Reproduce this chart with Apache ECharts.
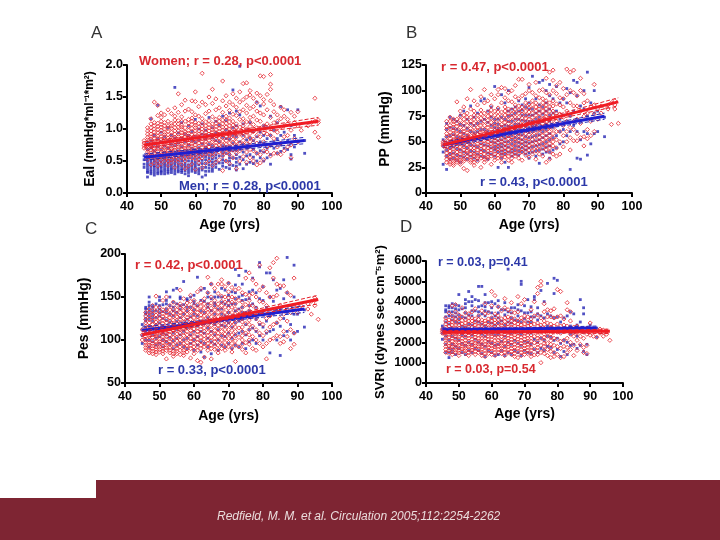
<!DOCTYPE html>
<html><head><meta charset="utf-8">
<style>html,body{margin:0;padding:0;background:#fff}#c{width:720px;height:540px}</style>
<script src="https://cdn.jsdelivr.net/npm/echarts@6/dist/echarts.min.js"></script></head>
<body><div id="c"></div>
<script>
// Each row: age, then values at that age.
const eaWomen=[[45,.74,.78,.7,.82],[46,.52,.6,.68,.75,.83,.92,1.02,.79],[47,.44,.55,.63,.72,.8,.88,.97,1.08,1.16,.76],[48,.47,.58,.66,.74,.81,.9,1,1.1,1.42,.7],[49,.42,.5,.61,.69,.77,.85,.94,1.04,1.21,1.37],[50,.45,.56,.64,.72,.8,.88,.98,1.07,1.18,1.25],[51,.5,.59,.67,.75,.83,.91,1,1.1,1.22,.62],[52,.43,.54,.62,.7,.78,.86,.96,1.05,1.12,1.3],[53,.47,.57,.66,.74,.82,.9,1.01,1.09,1.24,.69],[54,.4,.52,.63,.71,.8,.87,.97,1.08,1.2,1.33],[55,.48,.58,.68,.76,.84,.92,1.03,1.13,1.26,1.55],[56,.44,.55,.64,.73,.81,.9,.99,1.06,1.19,1.38],[57,.38,.5,.62,.7,.79,.88,.95,1.12,1.28,1.45],[58,.42,.56,.66,.74,.85,.93,1.04,1.15,1.31],[59,.45,.6,.69,.77,.86,.96,1.07,1.17,1.27,1.44],[60,.37,.53,.65,.75,.84,.92,1.02,1.1,1.22,1.58,1.43],[61,.47,.59,.68,.78,.88,.97,1.09,1.2,1.35],[62,.4,.55,.66,.76,.85,.95,1.05,1.16,1.42,1.87],[63,.46,.61,.7,.81,.9,1,1.11,1.24,1.38],[64,.5,.6,.72,.82,.92,1.02,1.13,1.28,1.5],[65,.43,.57,.69,.8,.89,.99,1.08,1.19,1.4,1.62],[66,.48,.62,.74,.84,.94,1.04,1.15,1.3,1.47],[67,.52,.64,.75,.86,.96,1.06,1.18,1.33],[68,.35,.58,.7,.81,.93,1.03,1.14,1.26,1.44,1.75],[69,.5,.63,.76,.88,.98,1.09,1.2,1.36,1.52],[70,.46,.6,.72,.85,.95,1.05,1.17,1.29,1.42],[71,.55,.67,.79,.9,1.01,1.12,1.23,1.38,1.55],[72,.38,.62,.74,.87,.97,1.08,1.21,1.34,1.48],[73,.5,.66,.78,.92,1.03,1.15,1.27,1.42,1.58],[74,.57,.7,.82,.94,1.05,1.16,1.3,1.46,1.71],[75,.48,.64,.77,.89,1,1.11,1.25,1.37,1.5,1.72],[76,.55,.68,.8,.93,1.04,1.18,1.32,1.6,1.53],[77,.5,.66,.84,.96,1.07,1.2,1.35,1.48],[78,.44,.62,.78,.9,1.02,1.14,1.28,1.41,1.56],[79,.47,.6,.74,.88,1,1.12,1.25,1.83,1.52],[80,.52,.66,.8,.94,1.05,1.22,1.39,1.82,1.46],[81,.64,.72,.92,1.08,1.3,1.54],[82,.58,.75,.9,1.02,1.18,1.62,1.7,1.85,1.44],[83,.62,.85,.98,1.1,1.27,1.38],[84,.62,.72,.95,1.12,1.22],[85,.6,.78,1.03,1.16,1.34],[86,.66,.88,1.05,1.3,1.2],[87,.72,.9,1.08,1.15],[88,.55,.75,.98,1.26],[89,.85,1.1,1.2],[90,.8,1.05,1.27],[91,.98],[93,1.05],[94,1.1],[95,.95,1.12,1.48],[96,.87,1.1,1.14]];
const eaWomenCore=[[46,.57,.64,.71,.87,.97],[47,.59,.67,.75,.84,.92,1.02],[48,.55,.62,.69,.78,.85,.95,1.05],[49,.55,.65,.73,.81,.89,.99,1.09],[50,.52,.6,.68,.76,.84,.93,1.03,1.12],[51,.55,.63,.71,.79,.87,.95,1.05],[52,.5,.58,.66,.74,.82,.91,1.01],[53,.52,.61,.7,.78,.86,.95,1.05],[54,.58,.67,.75,.83,.92,1.02,1.14],[55,.53,.63,.72,.8,.88,.97,1.08],[56,.6,.68,.77,.85,.94,1.03,1.12],[57,.56,.66,.74,.83,.92,1.02],[58,.6,.7,.79,.89,.98,1.09],[59,.55,.65,.73,.81,.91,1.01,1.12],[60,.6,.7,.8,.88,.97,1.06],[61,.53,.63,.73,.83,.92,1.03],[62,.6,.71,.8,.9,1,1.1],[63,.65,.75,.85,.95,1.05],[64,.66,.77,.87,.97,1.07],[65,.63,.74,.84,.94,1.03],[66,.68,.79,.89,.99,1.09],[67,.7,.8,.91,1.01,1.12],[68,.64,.75,.87,.98,1.08],[69,.69,.82,.93,1.03,1.14],[70,.66,.78,.9,1,1.11],[71,.73,.84,.95,1.06],[72,.68,.8,.92,1.02],[74,.76,.88,1,1.1],[76,.74,.86,.98,1.11]];
const eaMen=[[45,.4,.45,.52,.58],[46,.25,.34,.42,.5,.58,.68,.78],[47,.3,.36,.44,.52,.6,.7,.82,1.16],[48,.28,.36,.43,.5,.57,.66,.76,.9],[49,.3,.37,.45,.53,.62,.72,.85,1.37],[50,.3,.35,.42,.5,.58,.68,.8,.95],[51,.3,.38,.46,.54,.63,.73,.88],[52,.31,.37,.44,.52,.6,.7,.82,1.02],[53,.32,.39,.47,.55,.65,.76,.9],[54,.3,.38,.46,.53,.62,.74,.86,1.65],[55,.33,.4,.48,.56,.66,.78,.94],[56,.32,.38,.45,.54,.63,.72,.85,1.1],[57,.3,.39,.47,.57,.67,.8,.92],[58,.27,.36,.44,.55,.64,.75,.9,1.05],[59,.34,.42,.5,.6,.7,.82,.96],[60,.32,.4,.48,.58,.68,.79,.88,1.15],[61,.3,.38,.5,.6,.71,.83,1],[62,.25,.36,.46,.57,.66,.77,.92,1.08],[63,.28,.4,.52,.62,.72,.84,.98],[64,.34,.44,.54,.64,.76,.9,1.18],[65,.34,.43,.53,.63,.74,.86,1.02],[66,.4,.5,.6,.7,.82,.94,1.12],[67,.37,.47,.58,.68,.8,.92,1.06],[68,.42,.52,.63,.74,.87,1.2],[69,.4,.5,.62,.73,.85,.99,1.13],[70,.38,.5,.6,.72,.84,.96,1.25],[71,.43,.55,.66,.78,.9,1.02,1.61],[72,.36,.48,.6,.74,.88,1.05,1.28],[73,.45,.56,.68,.8,.95,1.22,1.98],[74,.38,.52,.64,.76,.9,1.08],[75,.45,.58,.7,.83,.98],[76,.48,.6,.72,.86,1.1],[77,.46,.56,.68,.82,.96],[78,.5,.62,.74,.88,1.42],[79,.55,.66,.8,.95,1.36],[80,.5,.64,.78,.9,1.05],[81,.55,.7,.85,1.02],[82,.45,.6,.74,.9,1.2],[83,.7,.8,.98],[84,.62,.85,1.1],[85,.65,.75,.9,1.35],[86,.7,.95],[87,.68,.82,1.3],[88,.53,.6,.78,1.05],[89,.72,.9],[90,.8,1.3],[92,.62,.82]];
const eaMenCore=[[46,.32,.38,.46,.54],[47,.33,.4,.48,.56],[48,.32,.4,.47,.54],[49,.33,.41,.49,.57],[50,.33,.39,.46,.54],[51,.34,.42,.5,.58],[52,.34,.41,.48,.56],[53,.36,.43,.51,.6],[54,.34,.42,.5,.58],[55,.36,.44,.52,.61],[56,.35,.42,.5,.59],[57,.35,.43,.52,.62],[58,.32,.4,.5,.6],[59,.38,.46,.55,.65],[60,.36,.44,.53,.63],[61,.34,.44,.55,.66],[62,.4,.51,.61],[63,.34,.46,.57],[64,.39,.49,.59],[65,.38,.48,.58],[66,.45,.55,.65],[68,.47,.58,.68],[70,.44,.55,.66],[72,.42,.54,.67]];
const ppWomen=[[45,46,48,50],[46,30,36,42,48,55,62,70],[47,28,33,38,44,50,56,63,70,74],[48,27,31,37,43,49,55,61,67,72],[49,30,34,40,46,52,58,65,72,89],[50,28,32,38,45,51,57,64,71,80],[51,24,31,36,42,48,54,60,68,76,84],[52,22,33,39,44,50,56,62,70,78,92],[53,30,35,41,47,53,60,67,74,82,101],[54,27,33,38,44,51,57,64,72,80,90],[55,31,36,42,48,54,61,68,76,86],[56,25,34,40,46,52,59,66,73,81,94],[57,30,35,41,48,55,62,70,78,88,101],[58,33,38,44,50,57,64,71,79,90],[59,28,36,42,48,55,62,69,77,85,96],[60,32,38,45,51,58,65,72,80,92],[61,34,40,46,53,60,67,75,83,96,101],[62,30,37,43,50,57,64,71,79,88,103],[63,35,41,48,55,62,69,76,84,93,102],[64,32,39,46,53,60,68,75,82,90,98],[65,30,38,44,52,59,66,74,81,89,100],[66,36,42,50,57,64,71,78,86,94,105],[67,34,41,48,56,63,70,78,85,92,111],[68,32,40,47,54,62,70,77,84,95,111],[69,37,44,51,58,66,73,80,88,97],[70,35,42,50,57,65,72,79,87,100,106],[71,38,45,52,60,67,74,82,90,98],[72,33,41,49,56,64,72,80,88,95,108],[73,38,46,54,62,70,78,85,93,100],[74,36,44,52,60,68,76,84,92,101],[75,30,42,50,58,66,74,82,90,98,112],[76,33,40,48,56,64,72,80,88,96,118],[77,38,46,54,63,72,80,90,100,120,110],[78,36,44,52,60,70,78,87,97,105],[79,38,50,60,68,77,86,93,108],[80,45,56,66,74,84,92,102],[81,50,60,70,80,96,121],[82,42,54,64,76,88,100,118],[83,51,62,70,85,98,120],[84,51,58,72,85,95],[85,54,68,80,100,112],[86,46,55,75,88,97],[87,53,62,78,90],[88,56,70,84],[89,60,77,86,106],[90,72,82],[91,78,85],[92,84],[93,82,86],[94,67,88],[95,82,86,90],[96,68]];
const ppWomenCore=[[46,33,39,45,51,58,65],[47,30,35,41,47,53,59,66],[48,29,34,40,46,52,58,64,70],[49,32,37,43,49,55,61,68],[50,30,35,41,48,54,60,67,75],[51,33,39,45,51,57,63,72],[52,36,41,47,53,59,66,74],[53,32,38,44,50,56,63,70],[54,30,36,41,47,54,60,68,76],[55,34,39,45,51,57,64,72],[56,37,43,49,55,62,69,77],[57,33,38,44,51,58,66,74],[58,35,41,47,53,60,67,75],[59,39,45,51,58,65,73,81],[60,35,41,48,54,61,68,76],[61,37,43,49,56,63,71,79],[62,34,40,47,53,60,67,75],[63,38,44,51,58,65,72,80],[64,36,42,49,56,64,71,78],[65,34,41,48,55,62,70,77],[66,39,46,53,60,67,74,82],[67,38,44,52,59,66,74,81],[68,43,50,58,66,73,80],[69,40,47,54,62,69,76,84],[70,46,53,61,68,75,83],[71,41,48,56,63,70,78,86],[72,45,52,60,68,76,84],[73,42,50,58,66,74,82],[74,48,56,64,72,80,88],[75,46,54,62,70,78,86],[76,44,52,60,68,76,84],[77,50,58,67,76,85]];
const ppMen=[[45,28,40,46,52],[46,23,36,42,48,55,62,68],[47,33,38,44,50,56,64,74],[48,34,39,45,51,57,63,72],[49,32,37,43,49,55,62,70],[50,30,36,42,48,54,60,67,76],[51,35,40,46,52,58,66,80],[52,33,38,44,50,56,63,72],[53,36,41,47,53,60,68,85],[54,34,40,46,52,59,66,74],[55,32,38,45,53,60,68,78],[56,36,42,48,55,62,70,90],[57,35,41,47,54,62,72,92],[58,33,39,46,52,60,69,80],[59,38,44,50,58,66,74,84],[60,36,42,49,56,64,72,104],[61,25,40,47,55,63,72,82],[62,34,41,48,56,65,74,96],[63,30,38,46,54,62,72,88],[64,25,40,50,60,70,80,100],[65,36,43,52,60,70,82],[66,38,46,54,63,72,84],[67,37,45,53,62,72,90],[68,40,48,57,66,76,86],[69,38,46,55,65,76,92],[70,34,44,54,64,76,88,103],[71,40,50,60,70,82,114],[72,36,46,56,66,78,92],[73,29,42,52,62,74,86,108],[74,38,48,60,70,84,110],[75,40,50,62,72,88,100],[76,34,46,58,70,82,95,106],[77,42,54,64,78,92],[78,44,56,66,80,104],[79,48,60,72,88],[80,50,62,76,92],[81,56,70,88,102],[82,23,60,75,98],[83,66,80,110],[84,34,60,72,95,108],[85,33,52,70,85],[86,60,82,100],[87,37,58,75,118],[88,48,72,88],[89,58,78,100],[90,60,80],[92,55,74]];
const ppMenCore=[[60,45,53,60,68],[61,44,51,59,67],[62,38,45,52,60],[63,42,50,58,66],[64,45,55,65,75],[65,40,48,56,65,76],[66,42,50,58,67,78],[67,41,49,57,67,80],[68,44,52,61,71,81],[69,42,50,60,70,84],[70,39,49,59,70,82],[71,45,55,65,76],[72,41,51,61,72],[73,47,57,68,80],[74,43,54,65,77],[75,45,56,67,80],[76,40,52,64,76]];
const pesWomen=[[45,100,106,112],[46,88,94,100,108,116,124,132],[47,85,91,97,104,112,120,128,136],[48,84,90,96,103,110,118,126,134,140],[49,83,89,95,102,109,117,125,133,151],[50,86,92,98,105,113,121,129,138],[51,84,90,97,104,111,119,127,135,146],[52,78,88,94,101,108,116,124,132,150],[53,85,91,98,106,114,122,130,140],[54,81,87,95,103,111,119,127,136,144],[55,84,90,99,107,115,123,131,140],[56,83,92,100,108,116,124,132,142,158],[57,82,88,96,105,113,121,130,139,148],[58,86,93,102,110,118,126,134,143],[59,79,90,98,107,115,124,133,145,152],[60,84,92,100,109,117,126,135,146],[61,76,88,97,106,114,123,132,141,156],[62,74,90,99,108,116,125,134,144,160],[63,80,92,101,110,119,128,137,148],[64,88,96,105,114,123,132,141,155,173],[65,78,90,99,108,117,127,137,150,165],[66,89,98,107,116,125,135,146,160],[67,85,94,104,113,122,132,142,154,165],[68,90,100,110,120,130,140,151,170,165],[69,88,97,107,117,127,138,150,162],[70,92,102,112,122,132,143,156,166],[71,86,96,106,116,127,138,150,161],[72,75,94,105,115,125,136,148,158],[73,92,103,114,124,134,146,160],[74,89,100,110,121,132,144,155],[75,85,97,108,119,130,141,153,172],[76,95,106,118,129,140,152,178],[77,90,104,116,128,140,154,170],[78,88,100,112,125,137,150,165],[79,96,108,120,132,145,158,187],[80,92,105,118,130,144,162],[81,78,96,110,125,140,155],[82,100,115,128,150,184],[83,102,118,135,150,172,190],[84,105,120,133,152,165,195],[85,96,104,125,140,163],[86,98,110,130,163],[87,104,122,135,155],[88,90,112,132,152],[89,95,108,138,172],[90,132,140],[91,140],[93,136,142],[94,130,145],[95,140,146,149],[96,124]];
const pesWomenCore=[[46,91,97,104,112,120,128],[47,88,94,100,108,116,124,132],[48,87,93,99,106,114,122,130],[49,86,92,98,105,113,121,129,138],[50,89,95,101,109,117,125,133],[51,87,93,100,107,115,123,131],[52,91,97,104,112,120,128,136],[53,88,95,102,110,118,126,135],[54,84,91,99,107,115,123,131],[55,87,94,103,111,119,127,135],[56,88,96,104,112,120,128,137],[57,85,92,100,109,117,125,134],[58,90,97,106,114,122,130,138],[59,94,102,111,119,128,138],[60,88,96,104,113,121,130,140],[61,92,101,110,118,127,136],[62,94,103,112,120,129,139],[63,96,105,114,123,132,142],[64,92,100,109,118,127,136],[65,94,103,112,122,132,143],[66,93,102,111,120,130,140],[67,89,99,108,117,127,137],[68,95,105,115,125,135,145],[69,92,102,112,122,132,144],[70,97,107,117,127,137,149],[71,91,101,111,121,132,144],[72,99,110,120,130,142],[74,95,105,115,126,138],[76,100,112,123,134,146]];
const pesMen=[[45,96,105,112,118],[46,100,108,115,122,130,136],[47,92,100,108,116,124,132,140,150],[48,98,106,114,122,130,138],[49,94,102,110,118,126,134,142],[50,96,104,112,120,128,136,146],[51,92,100,108,116,125,133,141],[52,98,106,114,123,132,142,156],[53,95,103,112,121,130,140,150],[54,90,99,108,118,128,138,158],[55,94,102,112,122,132,142,160],[56,96,106,116,126,136,148],[57,92,100,110,120,130,141,168],[58,90,102,114,124,134,146],[59,96,106,116,127,138,150],[60,88,100,110,120,130,142,152],[61,94,104,116,128,140,173],[62,86,98,110,122,134,146,158],[63,80,96,108,120,132,145,160],[64,92,102,114,126,138,150],[65,84,98,110,122,134,148,165],[66,95,106,118,130,143,156],[67,88,100,112,124,136,150],[68,94,105,117,130,144,160],[69,92,104,116,128,142,158],[70,96,108,120,132,146,166],[71,90,102,115,128,142,156],[72,94,106,120,134,148,164,182],[73,92,108,122,136,150,175],[74,96,110,124,138,152,165],[75,90,106,118,132,147,180],[76,98,112,126,140,156],[77,100,114,128,142,158,172],[78,96,110,124,138,155],[79,105,118,132,148,185,190],[80,100,115,130,146,162],[81,108,122,138,178],[82,85,110,128,150,178],[83,112,130,145,170],[84,100,120,135,158],[85,82,116,136,160],[86,105,125,148,170],[87,110,132,155,196],[88,100,118,140],[89,108,130,150,187],[90,110,130],[92,115,135]];
const pesMenCore=[[46,125,132,138],[47,128,136,144],[48,126,134,140],[50,132,140,150],[52,136,146],[54,134,144],[56,140,150],[58,138,148],[60,135,145],[64,142,155],[66,140,150],[68,136,150],[70,140,152],[72,128,142,155],[74,132,146],[76,134,148]];
const svriWomen=[[45,2450,2550,2650],[46,1500,1800,2100,2350,2600,2900,3200],[47,1450,1700,1950,2250,2500,2800,3100,3450],[48,1400,1650,1900,2200,2450,2700,3000,3300,3800],[49,1500,1750,2000,2300,2550,2850,3150,3500,3850],[50,1350,1600,1850,2150,2400,2700,3000,3350],[51,1550,1800,2050,2350,2600,2900,3250,3700],[52,1450,1700,1950,2250,2500,2800,3100,3450],[53,1350,1650,1900,2200,2480,2750,3050,3400],[54,1500,1750,2000,2300,2600,2900,3200,3500],[55,1400,1700,1950,2250,2550,2850,3150,3650],[56,1500,1800,2050,2350,2650,2950,3300],[57,1350,1650,1900,2200,2500,2800,3100,3550],[58,1300,1600,1900,2200,2500,2780,3050,3400,3900],[59,1450,1750,2000,2300,2580,2850,3150,3450],[60,1400,1700,1980,2280,2550,2880,3200,3800,4500],[61,1350,1650,1900,2250,2520,2800,3100,3400,4300],[62,1500,1800,2100,2400,2650,2950,3300,3750],[63,1450,1700,1950,2280,2560,2820,3150,3550],[64,1350,1650,1950,2250,2520,2850,3200,4150,3700],[65,1500,1780,2050,2350,2620,2900,3250,3600],[66,1400,1700,2000,2300,2580,2880,3200,3500,3950],[67,1300,1600,1900,2220,2500,2800,3150,3450],[68,1250,1550,1850,2150,2450,2750,3050,3500,4250],[69,1350,1650,1950,2250,2550,2850,3200,3900],[70,1400,1700,2000,2300,2600,2900,3300,4100],[71,1450,1750,2050,2350,2650,2950,3250],[72,1300,1600,1900,2200,2520,2850,3150,3600],[73,1380,1680,1980,2300,2600,2900,3300,4000],[74,1400,1750,2050,2350,2650,2950,3350,4400,4700],[75,1000,1500,1850,2200,2500,2850,3200,5000,4800],[76,1450,1800,2100,2400,2700,3050,3500,3900],[77,1350,1650,1950,2300,2600,2950,3250,3600],[78,1250,1550,1900,2250,2560,2900,3250,3550],[79,1300,1500,1850,2200,2500,2800,3200,3650],[80,1400,1800,2150,2500,2900,3250,4600],[81,1250,1700,2050,2450,2800,3300,4500],[82,1300,1800,2100,2520,2850,3150],[83,1500,1750,2200,2550,2800,3600,3950],[84,1650,2000,2400,2700,3050,3500],[85,1350,1850,2300,2500,2750],[86,1600,2100,2450,2800],[87,1900,2300,2600],[88,1500,1750,2200,2500],[89,1450,1850,2400,2700],[90,2350,2500,2950],[91,2300,2600],[92,2250,2550],[93,2450,2650],[94,2300,2500,2600],[95,2400,2550],[96,2100]];
const svriWomenCore=[[46,1650,1950,2220,2480,2750,3050],[47,1580,1820,2100,2380,2650,2950],[48,1530,1780,2050,2320,2580,2850,3150],[49,1620,1880,2150,2420,2700,3000],[50,1480,1730,2000,2280,2550,2850,3150],[51,1680,1920,2200,2480,2750,3080],[52,1580,1820,2100,2380,2650,2950],[53,1500,1780,2050,2340,2620,2900,3200],[54,1620,1880,2150,2450,2750,3050],[55,1550,1830,2100,2400,2700,3000],[56,1650,1920,2200,2500,2800,3120],[57,1500,1780,2050,2350,2650,2950],[58,1450,1750,2050,2350,2640,2920],[59,1600,1880,2150,2440,2720,3000],[60,1550,1840,2130,2420,2710,3040],[61,1500,1780,2080,2380,2660,2950],[62,1650,1950,2250,2520,2800,3120],[63,1580,1830,2110,2420,2690,2980],[64,1500,1800,2100,2380,2680,3020],[65,1640,1920,2200,2480,2760,3070],[66,1550,1850,2150,2440,2730,3040],[67,1450,1750,2060,2360,2650,2970],[68,1700,2000,2300,2600,2900],[69,1500,1800,2100,2400,2700,3020],[70,1550,1850,2150,2450,2750,3100],[71,1600,1900,2200,2500,2800],[72,1450,1750,2050,2360,2680,3000],[74,1580,1900,2200,2500,2800],[76,1620,1950,2250,2550,2880],[78,1720,2080,2400,2730]];
const svriMen=[[45,2150,2450,2650,2800],[46,1500,1900,2300,2650,3000,3500,3800],[47,1250,1700,2100,2500,2900,3300,3700],[48,1500,1900,2300,2700,3100,3500,3900],[49,1400,1800,2200,2600,3000,3450,3850],[50,1700,2100,2500,2950,3350,3800,4350],[51,1500,1950,2350,2800,3250,3650],[52,1400,1850,2300,2750,3200,3700,4100],[53,1600,2000,2450,2900,3350,4000,4500],[54,1500,1900,2350,2850,3300,3800,4250],[55,1700,2150,2600,3050,3550,4100],[56,1600,2000,2500,3000,3500,4050,4750],[57,1450,1900,2400,2900,3400,3800,4750],[58,1300,1800,2300,2800,3300,3750,4350],[59,1600,2050,2500,3000,3500,3950],[60,1500,1950,2450,2950,3450,4000],[61,1350,1850,2350,2850,3300,3900],[62,1400,1900,2400,2950,3450,4050],[63,1600,2050,2550,3050,3600],[64,1350,1800,2300,2850,3350,3950],[65,1500,2000,2500,3000,3500,5600],[66,1400,1900,2450,2950,3450],[67,1600,2100,2600,3100,3700],[68,1500,1950,2500,3050,3600],[69,1350,1850,2400,3000,3550,4850,5000],[70,1600,2050,2600,3150,3800],[71,1500,2000,2500,3000,3450,4100],[72,1450,1900,2450,3000,3500],[73,1650,2150,2700,3250,4250,4100],[74,1500,2000,2550,3100,3700],[75,1700,2200,2750,3300,4550],[76,1600,2100,2650,3200,4000],[77,1800,2300,2800,3400,4900],[78,1750,2250,2750,3300],[79,1500,2100,2650,3200,5150,4400],[80,1650,2200,2700,3250,5050],[81,1300,1950,2500,3000],[82,1550,2100,2600,3200],[83,1400,2000,2650,3300],[84,1850,2400,2800,3500],[85,1900,2500,3400],[86,1700,2300,2850],[87,1850,2600,3000,4100],[88,1550,2500,3400,3700],[89,1400,1900,2700],[90,2600,2850],[92,2250,2700]];
const svriMenCore=[[46,3250,3600],[47,1500,3500,3800],[48,1650,3300,3700],[49,3250,3650],[50,3150,3600],[52,3450,3900],[54,3550,4000],[56,3300,3750],[58,3550,3950],[60,3200,3700],[62,3200,3750],[64,3600],[66,3200,3700],[68,3300,3850],[70,3450],[72,3250,3750],[74,3400]];
const ageTicks=["40","50","60","70","80","90","100"];
const menLineA=[[45,.56],[92,.82]], womenLineA=[[45,.75],[96,1.12]];
const menLineB=[[45,47],[92,75]], womenLineB=[[45,47],[96,89]];
const menLineC=[[45,111],[92,136]], womenLineC=[[45,106],[96,147]];
const menLineD=[[45,2620],[92,2700]], womenLineD=[[45,2500],[96,2540]];
const menBandA=[.05,.03,.05], womenBandA=[.05,.03,.06];
const menBandB=[3,1.5,3], womenBandB=[3,1.5,4];
const menBandC=[4,2,4], womenBandC=[4,2,5];
const menBandD=[90,45,100], womenBandD=[90,45,110];

const RED='#e5212b', BLUE='#2626b4', FONT='"Liberation Sans",Arial,sans-serif';
const cols=r=>r.flatMap(([a,...v])=>v.map(y=>[a,y]));
function band(line,w,sign){
  const [[x0,y0],[x1,y1]]=line, m=(x0+x1)/2;
  return [[x0,y0+sign*w[0]],[m,(y0+y1)/2+sign*w[1]],[x1,y1+sign*w[2]]];
}
const panels=[
 {l:127,t:65,w:205,h:128,ymin:0,ymax:2,iv:.5,fmt:v=>v.toFixed(1),name:'{a|Eal} {b|(mmHg*ml⁻¹*m²)}',gap:30,xgap:25,w_:[...eaWomen,...eaWomenCore],m_:[...eaMen,...eaMenCore],ml:menLineA,wl:womenLineA,mb:menBandA,wb:womenBandA},
 {l:426,t:65,w:206,h:128,ymin:0,ymax:125,iv:25,fmt:v=>v,name:'{a|PP (mmHg)}',gap:34,xgap:25,w_:[...ppWomen,...ppWomenCore],m_:[...ppMen,...ppMenCore],ml:menLineB,wl:womenLineB,mb:menBandB,wb:womenBandB},
 {l:125,t:254,w:207,h:129,ymin:50,ymax:200,iv:50,fmt:v=>v,name:'{a|Pes (mmHg)}',gap:34,xgap:26,w_:[...pesWomen,...pesWomenCore],m_:[...pesMen,...pesMenCore],ml:menLineC,wl:womenLineC,mb:menBandC,wb:womenBandC},
 {l:426,t:261,w:197,h:122,ymin:0,ymax:6000,iv:1000,fmt:v=>v,name:'{c|SVRI (dynes sec cm⁻⁵m²)}',gap:39,xgap:24,w_:[...svriWomen,...svriWomenCore],m_:[...svriMen,...svriMenCore],ml:menLineD,wl:womenLineD,mb:menBandD,wb:womenBandD}
];
const grid=[],xAxis=[],yAxis=[],series=[];
panels.forEach((p,i)=>{
  grid.push({left:p.l,top:p.t,width:p.w,height:p.h});
  const line={lineStyle:{color:'#000',width:2}}, tick={length:4,lineStyle:{color:'#000',width:2}};
  xAxis.push({gridIndex:i,type:'value',min:40,max:100,interval:10,splitLine:{show:false},axisLine:{onZero:false,...line},axisTick:tick,
    axisLabel:{color:'#000',fontFamily:FONT,fontWeight:'bold',fontSize:12.5,margin:7,formatter:v=>ageTicks[(v-40)/10]},
    name:'Age (yrs)',nameLocation:'middle',nameGap:p.xgap,nameTextStyle:{color:'#000',fontFamily:FONT,fontWeight:'bold',fontSize:14}});
  yAxis.push({gridIndex:i,type:'value',min:p.ymin,max:p.ymax,interval:p.iv,splitLine:{show:false},axisLine:{onZero:false,...line},axisTick:tick,
    axisLabel:{color:'#000',fontFamily:FONT,fontWeight:'bold',fontSize:12.5,margin:4,formatter:p.fmt},
    name:p.name,nameLocation:'middle',nameGap:p.gap,nameRotate:90,
    nameTextStyle:{rich:{a:{color:'#000',fontFamily:FONT,fontWeight:'bold',fontSize:14},b:{color:'#000',fontFamily:FONT,fontWeight:'bold',fontSize:12},c:{color:'#000',fontFamily:FONT,fontWeight:'bold',fontSize:13}}}});
  const base={xAxisIndex:i,yAxisIndex:i,animation:false,silent:true};
  series.push({...base,type:'scatter',data:cols(p.m_),symbol:'rect',symbolSize:2.8,itemStyle:{color:BLUE}});
  series.push({...base,type:'scatter',data:cols(p.w_),symbol:'diamond',symbolSize:4.2,itemStyle:{color:'rgba(255,255,255,0.2)',borderColor:RED,borderWidth:1}});
  const ln=(d,c,w,dash)=>series.push({...base,type:'line',data:d,showSymbol:false,smooth:false,lineStyle:{color:c,width:w,type:dash?'dashed':'solid'}});
  ln(band(p.ml,p.mb,1),BLUE,1,true); ln(band(p.ml,p.mb,-1),BLUE,1,true);
  ln(p.ml,'#1f1fd0',3);
  ln(band(p.wl,p.wb,1),RED,1,true); ln(band(p.wl,p.wb,-1),RED,1,true);
  ln(p.wl,'#f01c24',3);
});
const txt=(s,x,y,c,o={})=>({type:'text',x,y,z:50,style:{text:s,fill:c,font:`bold 13px ${FONT}`,textVerticalAlign:'middle',...o}});
const letter=(s,x,y)=>txt(s,x,y,'#333',{font:`17px ${FONT}`});
const graphic=[
 {type:'rect',shape:{x:96,y:480,width:624,height:60},style:{fill:'#7e2533'},silent:true},
 {type:'rect',shape:{x:0,y:498,width:96,height:42},style:{fill:'#7e2533'},silent:true},
 txt('Redfield, M. M. et al. Circulation 2005;112:2254-2262',217,517,'#eadcdc',{font:`italic 12px ${FONT}`}),
 letter('A',91,33),letter('B',406,33),letter('C',85,229),letter('D',400,227),
 txt('Women; r = 0.28, p<0.0001',139,61,'#d8282f'),
 txt('Men; r = 0.28, p<0.0001',179,186,'#2c38a8'),
 txt('r = 0.47, p<0.0001',441,67,'#d8282f'),
 txt('r = 0.43, p<0.0001',480,182,'#2c38a8'),
 txt('r = 0.42, p<0.0001',135,265,'#d8282f'),
 txt('r = 0.33, p<0.0001',158,370,'#2c38a8'),
 txt('r = 0.03, p=0.41',438,263,'#2c38a8',{font:`bold 12.5px ${FONT}`}),
 txt('r = 0.03, p=0.54',446,370,'#d8282f',{font:`bold 12.5px ${FONT}`})
];
const chart=echarts.init(document.getElementById('c'),null,{renderer:'canvas'});
chart.setOption({backgroundColor:'#fff',animation:false,grid,xAxis,yAxis,series,graphic});
</script></body></html>
